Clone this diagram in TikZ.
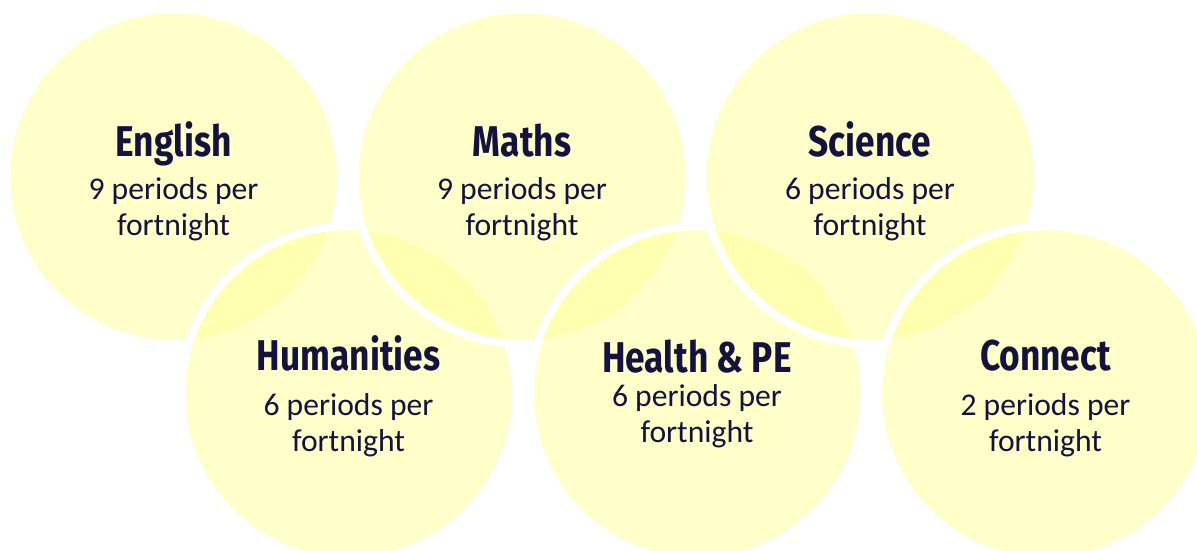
\documentclass[tikz,border=0pt]{standalone}
\usepackage{fontspec}
\setmainfont{Carlito}
\newfontfamily\headfont{Fira Sans}[FakeStretch=0.82]

\definecolor{circfill}{RGB}{255,255,150}
\definecolor{ink}{RGB}{20,18,62}

\tikzset{
  subject/.style={circle,inner sep=0pt,minimum size=6.7cm,fill=circfill,fill opacity=0.5,draw=white,line width=0.16cm},
  heading/.style={anchor=base,text=ink,font=\headfont\bfseries\fontsize{24.5}{28}\selectfont},
  periods/.style={anchor=base,text=ink,align=center,font=\fontsize{18}{20.4}\selectfont}
}

\begin{document}
\begin{tikzpicture}[x=0.02cm,y=-0.02cm]
\useasboundingbox (0,0) rectangle (1197,551);
\clip (0,0) rectangle (1197,551);

%circles drawn top, bottom, top, ...
\foreach \name/\x/\y in {english/173.5/176.5,humanities/348.5/393.5,maths/522/176.5,health/697/393.5,science/870/176.5,connect/1045.5/393.5}
    \node[subject] (\name) at (\x,\y) {};

%base of the text node is the last line
\foreach \name/\x/\hy/\by/\subj/\n in {english/173.5/156/235/English/9,humanities/348.5/370/451/Humanities/6,maths/522/156/235/Maths/9,health/697/372/442/Health \& PE/6,science/870/156/235/Science/6,connect/1045.5/370/451/Connect/2}
{
    \node[heading] (\name-head) at (\x,\hy) {\subj};
    \node[periods] (\name-text) at (\x,\by) {\n{} periods per\\fortnight};
}

\end{tikzpicture}
\end{document}
